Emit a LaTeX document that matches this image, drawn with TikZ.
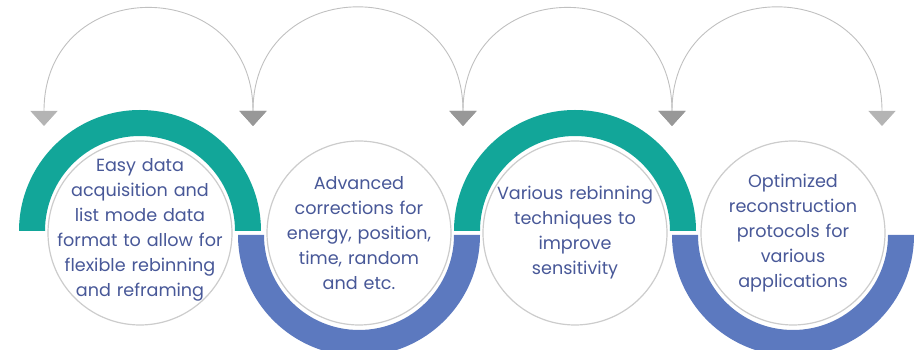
\documentclass[tikz,border=0pt]{standalone}
\usepackage{fontspec}
\setmainfont{Poppins}
\usetikzlibrary{arrows.meta}
\definecolor{bandteal}{RGB}{18,166,153}
\definecolor{bandblue}{RGB}{92,121,191}
\definecolor{stageink}{RGB}{72,88,152}
\definecolor{arcgray}{RGB}{192,192,192}
\definecolor{tiplight}{RGB}{180,180,180}
\definecolor{tipdark}{RGB}{152,152,152}
\tikzset{
  stage/.style={circle, draw=gray!40, line width=1.2pt, fill=white,
    minimum size=184pt, inner sep=0pt},
  stagetext/.style={text width=184pt, align=center, text=stageink,
    font=\fontsize{17.6}{25}\selectfont},
  backarc/.style={draw=arcgray, line width=0.9pt},
  ltip/.tip={Triangle[width=27pt,length=15pt,color=tiplight]},
  dtip/.tip={Triangle[width=27pt,length=15pt,color=tipdark]},
}
\begin{document}
\begin{tikzpicture}[x=1pt,y=1pt]
  \useasboundingbox (0,0) rectangle (922,350);
  % half rings
  \fill[bandteal] (19,119) arc (180:0:121) -- (235,119) arc (0:180:95) -- cycle;
  \fill[bandblue] (238,115) arc (180:360:121) -- (454,115) arc (360:180:95) -- cycle;
  \fill[bandteal] (454,119) arc (180:0:121) -- (670,119) arc (0:180:95) -- cycle;
  \fill[bandblue] (672,115) arc (180:360:121) -- (888,115) arc (360:180:95) -- cycle;
  % stages
  \node[stage] (s1) at (140,117) {};
  \node[stage] (s2) at (359,117) {};
  \node[stage] (s3) at (575,117) {};
  \node[stage] (s4) at (793,117) {};
  \node[stagetext] (t1) at ([yshift=3pt]s1.center) {Easy data\\ acquisition and\\ list mode data\\ format to allow for\\ flexible rebinning\\ and reframing};
  \node[stagetext] (t2) at (s2.center) {Advanced\\ corrections for\\ energy, position,\\ time, random\\ and etc.};
  \node[stagetext] (t3) at (s3.center) {Various rebinning\\ techniques to\\ improve\\ sensitivity};
  \node[stagetext] (t4) at (s4.center) {Optimized\\ reconstruction\\ protocols for\\ various\\ applications};
  % arcs above
  \coordinate (p0) at (44,224);
  \coordinate (p1) at (253,224);
  \coordinate (p2) at (463,224);
  \coordinate (p3) at (672,224);
  \coordinate (p4) at (882,224);
  \draw[backarc, ltip-dtip] (p0) to[out=90,in=90,looseness=1.88] (p1);
  \draw[backarc, dtip-dtip] (p1) to[out=90,in=90,looseness=1.88] (p2);
  \draw[backarc, dtip-dtip] (p2) to[out=90,in=90,looseness=1.88] (p3);
  \draw[backarc, dtip-ltip] (p3) to[out=90,in=90,looseness=1.88] (p4);
\end{tikzpicture}
\end{document}
